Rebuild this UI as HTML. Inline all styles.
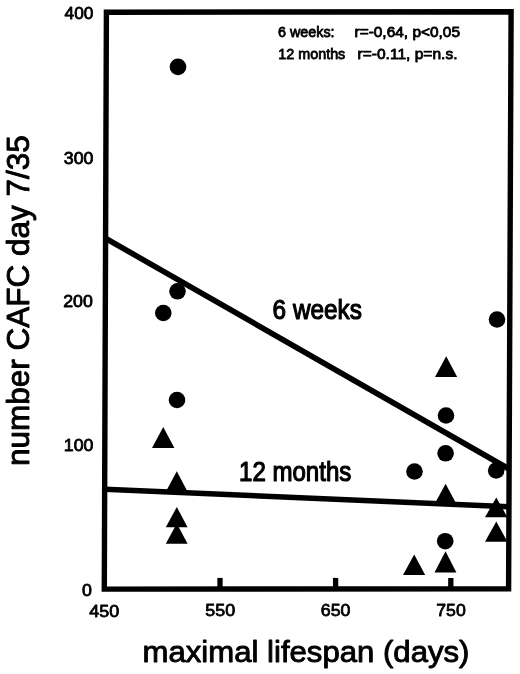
<!DOCTYPE html>
<html><head><meta charset="utf-8"><title>CAFC vs lifespan</title>
<style>
html,body{margin:0;padding:0;background:#fff;}
svg{display:block;}
text{font-family:"Liberation Sans",sans-serif;fill:#000;stroke:#000;stroke-linejoin:round;}
.tk{font-size:16.9px;stroke-width:0.8;}
.ax{stroke-width:0.9;}
</style></head>
<body>
<svg width="520" height="674" viewBox="0 0 520 674">
<rect width="520" height="674" fill="#fff"/>
<!-- frame -->
<polygon points="106.4,12.2 511.1,11.7 508.6,588.8 104.3,589.1" fill="none" stroke="#000" stroke-width="5.4" stroke-linejoin="miter"/>
<!-- ticks -->
<g stroke="#000" stroke-width="5.3">
<line x1="220" y1="577.9" x2="220" y2="589"/>
<line x1="335.6" y1="577.9" x2="335.6" y2="589"/>
<line x1="450.8" y1="578" x2="450.8" y2="589"/>
</g>
<!-- regression lines -->
<line x1="105.4" y1="238.2" x2="509" y2="469" stroke="#000" stroke-width="5.6"/>
<line x1="105" y1="489.3" x2="509" y2="506.8" stroke="#000" stroke-width="5.5"/>
<!-- circles: 6 weeks -->
<g fill="#000">
<circle cx="178" cy="66.9" r="8.3"/>
<circle cx="177.5" cy="291.3" r="8.3"/>
<circle cx="163.3" cy="313" r="8.3"/>
<circle cx="177" cy="400" r="8.3"/>
<circle cx="497" cy="319.5" r="8.3"/>
<circle cx="446" cy="415.5" r="8.3"/>
<circle cx="445.6" cy="453.3" r="8.3"/>
<circle cx="414.5" cy="471.5" r="8.3"/>
<circle cx="496.2" cy="470.5" r="8.3"/>
<circle cx="445.2" cy="541.2" r="8.3"/>
</g>
<!-- triangles: 12 months -->
<g fill="#000">
<polygon points="163.25,427 152,448 174.4,448"/>
<polygon points="176.8,471.2 165.8,491.8 187.6,491.8"/>
<polygon points="176.8,507 165.8,527.2 187.6,527.2"/>
<polygon points="176.8,523.5 165.8,543.8 187.6,543.8"/>
<polygon points="446.2,356.2 435,377 457.2,377"/>
<polygon points="445.6,483.7 434.6,504 456.4,504"/>
<polygon points="496.3,497.4 485,517.2 507.4,517.2"/>
<polygon points="496.3,521.6 485,541.8 507.4,541.8"/>
<polygon points="414.2,554.4 403,575 425.2,575"/>
<polygon points="445.5,551.2 434.5,572.5 456.4,572.5"/>
</g>
<!-- y tick labels -->
<g class="tk" text-anchor="end">
<text x="93.4" y="19.3" textLength="28.8" lengthAdjust="spacingAndGlyphs">400</text>
<text x="93.4" y="163.8" textLength="29.6" lengthAdjust="spacingAndGlyphs">300</text>
<text x="92.8" y="306.9" textLength="29.6" lengthAdjust="spacingAndGlyphs">200</text>
<text x="93.4" y="451.3" textLength="29.6" lengthAdjust="spacingAndGlyphs">100</text>
<text x="91.8" y="596" textLength="9.9" lengthAdjust="spacingAndGlyphs">0</text>
</g>
<!-- x tick labels -->
<g class="tk" text-anchor="middle">
<text x="104.3" y="616.5" font-size="17.4" textLength="29.9" lengthAdjust="spacingAndGlyphs">450</text>
<text x="220.2" y="616.3" font-size="17.4" textLength="29.8" lengthAdjust="spacingAndGlyphs">550</text>
<text x="335.6" y="616.1" font-size="17.4" textLength="29.6" lengthAdjust="spacingAndGlyphs">650</text>
<text x="451" y="616" font-size="17.4" textLength="29.4" lengthAdjust="spacingAndGlyphs">750</text>
</g>
<!-- axis titles -->
<text class="ax" x="142.5" y="661.7" font-size="29.6" textLength="327" lengthAdjust="spacingAndGlyphs">maximal lifespan (days)</text>
<text class="ax" transform="translate(28.8,465.9) rotate(-90)" font-size="31.6" textLength="330.6" lengthAdjust="spacingAndGlyphs">number CAFC day 7/35</text>
<!-- line labels -->
<text x="272.6" y="318.6" font-size="28.4" style="stroke-width:1.2" textLength="89.3" lengthAdjust="spacingAndGlyphs">6 weeks</text>
<text x="239" y="480.5" font-size="27.8" style="stroke-width:1.2" textLength="112.3" lengthAdjust="spacingAndGlyphs">12 months</text>
<!-- annotations -->
<g font-size="15.5" style="stroke-width:0.85">
<text x="278" y="37.3" textLength="56.6" lengthAdjust="spacingAndGlyphs">6 weeks:</text>
<text x="354.5" y="37.3" textLength="105.5" lengthAdjust="spacingAndGlyphs">r=-0,64, p&lt;0,05</text>
<text x="278.3" y="59.1" textLength="67" lengthAdjust="spacingAndGlyphs">12 months</text>
<text x="357.5" y="59.1" textLength="100" lengthAdjust="spacingAndGlyphs">r=-0.11, p=n.s.</text>
</g>
</svg>
</body></html>
